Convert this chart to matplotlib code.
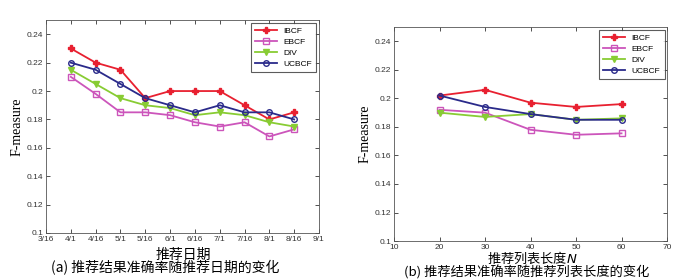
import matplotlib
matplotlib.use("Agg")
import matplotlib.pyplot as plt
import numpy as np

plt.rcParams['font.family'] = ['Liberation Sans', 'Noto Sans CJK SC', 'DejaVu Sans']

# left panel: F-measure vs recommendation date
date_labels = ["3/16", "4/1", "4/16", "5/1", "5/16", "6/1", "6/16", "7/1", "7/16", "8/1", "8/16", "9/1"]
date_pos = np.arange(1, 11)
ibcf_a = [0.230, 0.220, 0.215, 0.195, 0.200, 0.200, 0.200, 0.190, 0.180, 0.185]
ebcf_a = [0.210, 0.198, 0.185, 0.185, 0.183, 0.178, 0.175, 0.178, 0.168, 0.173]
div_a = [0.215, 0.205, 0.195, 0.190, 0.188, 0.183, 0.185, 0.183, 0.178, 0.175]
ucbcf_a = [0.220, 0.215, 0.205, 0.195, 0.190, 0.185, 0.190, 0.185, 0.185, 0.180]

# right panel: F-measure vs list length N
list_n = [20, 30, 40, 50, 60]
ibcf_b = [0.202, 0.206, 0.197, 0.194, 0.196]
ebcf_b = [0.192, 0.190, 0.178, 0.1745, 0.1755]
div_b = [0.190, 0.187, 0.189, 0.185, 0.186]
ucbcf_b = [0.202, 0.194, 0.189, 0.185, 0.185]

styles = [
    ("IBCF", "#e82030", "P", dict(markersize=4)),
    ("EBCF", "#cc55bb", "s", dict(markersize=5, markerfacecolor="none")),
    ("DIV", "#88cc33", "v", dict(markersize=5)),
    ("UCBCF", "#2a2a8a", "o", dict(markersize=4, markerfacecolor="none")),
]

fig = plt.figure(figsize=(7.0, 2.79), dpi=100)
ax1 = fig.add_axes([0.0657, 0.165, 0.39, 0.763])
ax2 = fig.add_axes([0.5629, 0.136, 0.39, 0.767])


def style_axes(ax):
    ax.set_ylim(0.1, 0.25)
    ax.set_yticks([0.1, 0.12, 0.14, 0.16, 0.18, 0.2, 0.22, 0.24])
    ax.set_yticklabels(["0.1", "0.12", "0.14", "0.16", "0.18", "0.2", "0.22", "0.24"])
    ax.tick_params(direction="in", top=True, right=True, labelsize=6, length=3,
                   colors="#333333", width=0.6, pad=2)
    for s in ax.spines.values():
        s.set_linewidth(0.6)
        s.set_color("#555555")
    ax.set_ylabel("F-measure", family=["Liberation Serif"], fontsize=10, labelpad=2)
    leg = ax.legend(loc="upper right", fontsize=6, frameon=True, fancybox=False,
                    handlelength=2.6, borderpad=0.5, labelspacing=0.4,
                    borderaxespad=0.3)
    leg.get_frame().set_edgecolor("#333333")
    leg.get_frame().set_linewidth(0.8)


for vals, (name, col, mk, kw) in zip([ibcf_a, ebcf_a, div_a, ucbcf_a], styles):
    ax1.plot(date_pos, vals, color=col, marker=mk, linewidth=1.3, label=name,
             markeredgecolor=col, **kw)
for vals, (name, col, mk, kw) in zip([ibcf_b, ebcf_b, div_b, ucbcf_b], styles):
    ax2.plot(list_n, vals, color=col, marker=mk, linewidth=1.3, label=name,
             markeredgecolor=col, **kw)

ax1.set_xlim(0, 11)
ax1.set_xticks(np.arange(0, 12))
ax1.set_xticklabels(date_labels)
style_axes(ax1)

ax2.set_xlim(10, 70)
ax2.set_xticks([10, 20, 30, 40, 50, 60, 70])
style_axes(ax2)

cjk = ["Noto Sans CJK SC"]
fig.text(0.262, 0.086, "推荐日期", ha="center", va="center", family=cjk, fontsize=10)
fig.text(0.760, 0.075, "推荐列表长度$\\mathit{N}$", ha="center", va="center",
         family=cjk, fontsize=9.5)
fig.text(0.236, 0.039, "(a) 推荐结果准确率随推荐日期的变化", ha="center", va="center",
         family=cjk, fontsize=10)
fig.text(0.753, 0.022, "(b) 推荐结果准确率随推荐列表长度的变化", ha="center", va="center",
         family=cjk, fontsize=9.5)

fig.savefig("out.png", dpi=100)
